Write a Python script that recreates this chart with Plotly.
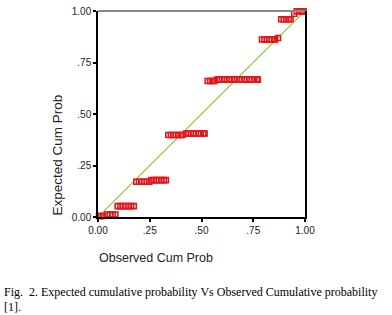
import plotly.graph_objects as go

# Observed cumulative probability (x) and expected cumulative probability (y)
observed = [0.005, 0.015, 0.025,
            0.045, 0.058, 0.071, 0.084,
            0.095, 0.108, 0.121, 0.134, 0.147, 0.160, 0.173,
            0.185, 0.198, 0.211, 0.224, 0.237, 0.248,
            0.258, 0.270, 0.282, 0.294, 0.306, 0.318, 0.328,
            0.340, 0.352, 0.364, 0.376, 0.388, 0.400, 0.408,
            0.425, 0.437, 0.449, 0.461, 0.473, 0.485, 0.497, 0.509, 0.515,
            0.530, 0.542, 0.554, 0.562,
            0.575, 0.587, 0.599, 0.611, 0.623, 0.635, 0.647, 0.659, 0.671,
            0.683, 0.695, 0.707, 0.719, 0.731, 0.743, 0.755, 0.767, 0.772,
            0.792, 0.804, 0.816, 0.828, 0.840, 0.852, 0.855,
            0.870,
            0.885, 0.897, 0.909, 0.921, 0.930,
            0.948,
            0.960, 0.972, 0.984, 0.993]
expected = [0.005] * 3 + [0.012] * 4 + [0.053] * 7 + [0.171] * 6 + [0.179] * 7 + \
           [0.398] * 7 + [0.405] * 9 + [0.660] * 4 + [0.667] * 18 + [0.862] * 7 + \
           [0.869] * 1 + [0.960] * 5 + [0.987] * 1 + [0.998] * 4

diag_x = [0.0, 1.0]
diag_y = [0.0, 1.0]

tick_vals = [0.0, 0.25, 0.5, 0.75, 1.0]
tick_text = ["0.00", ".25", ".50", ".75", "1.00"]

fig = go.Figure()
fig.add_trace(go.Scatter(x=diag_x, y=diag_y, mode="lines",
                         line=dict(color="#8cc63e", width=1.2),
                         hoverinfo="skip", showlegend=False))
fig.add_trace(go.Scatter(x=observed, y=expected, mode="markers",
                         marker=dict(symbol="square-open", size=5,
                                     color="#e4151b", line=dict(width=1.6, color="#e4151b")),
                         cliponaxis=False, showlegend=False))

axis_font = dict(family="Liberation Sans, Arial", size=10, color="#222222")
fig.update_xaxes(range=[0, 1], tickvals=tick_vals, ticktext=tick_text,
                 ticks="outside", ticklen=3, tickwidth=2, tickcolor="black",
                 showline=True, linecolor="black", linewidth=1.5,
                 showgrid=False, zeroline=False, tickfont=axis_font, automargin=False)
fig.update_yaxes(range=[0, 1], tickvals=tick_vals, ticktext=tick_text,
                 ticks="outside", ticklen=3, tickwidth=2, tickcolor="black",
                 showline=True, linecolor="black", linewidth=1.5, mirror=True,
                 showgrid=False, zeroline=False, tickfont=axis_font, automargin=False)

W, H = 392, 315
L, R, T, B = 98, 87, 11, 98
pw, ph = W - L - R, H - T - B

def px(xp):
    return (xp - L) / pw

def py(yp):
    return (H - B - yp) / ph

fig.add_shape(type="line", xref="paper", yref="paper", x0=0, x1=1, y0=1, y1=1,
              line=dict(color="#8a8a8a", width=2))

title_font = dict(family="Liberation Sans, Arial", size=13.5, color="#222222")
fig.add_annotation(text="Observed Cum Prob", xref="paper", yref="paper",
                   x=px(97), y=py(258), xanchor="left", yanchor="middle",
                   showarrow=False, font=dict(family="Liberation Sans, Arial", size=12.5, color="#222222"))
fig.add_annotation(text="Expected Cum Prob", xref="paper", yref="paper",
                   x=px(57), y=py(218), xanchor="center", yanchor="bottom",
                   textangle=-90, showarrow=False, font=title_font)

cap_font = dict(family="Liberation Serif, Times New Roman", size=12, color="black")
fig.add_annotation(text="Fig.&nbsp; 2. Expected cumulative probability Vs Observed Cumulative probability",
                   xref="paper", yref="paper", x=px(2), y=py(292),
                   xanchor="left", yanchor="middle", showarrow=False, font=cap_font)
fig.add_annotation(text="[1].", xref="paper", yref="paper", x=px(2), y=py(307),
                   xanchor="left", yanchor="middle", showarrow=False, font=cap_font)

fig.update_layout(width=W, height=H, margin=dict(l=L, r=R, t=T, b=B, autoexpand=False),
                  plot_bgcolor="white", paper_bgcolor="white")

fig.write_html("out.html", config={"displayModeBar": False},
               post_script="document.body.style.margin='0';document.body.style.padding='0';"
                           "document.documentElement.style.overflow='hidden';")
